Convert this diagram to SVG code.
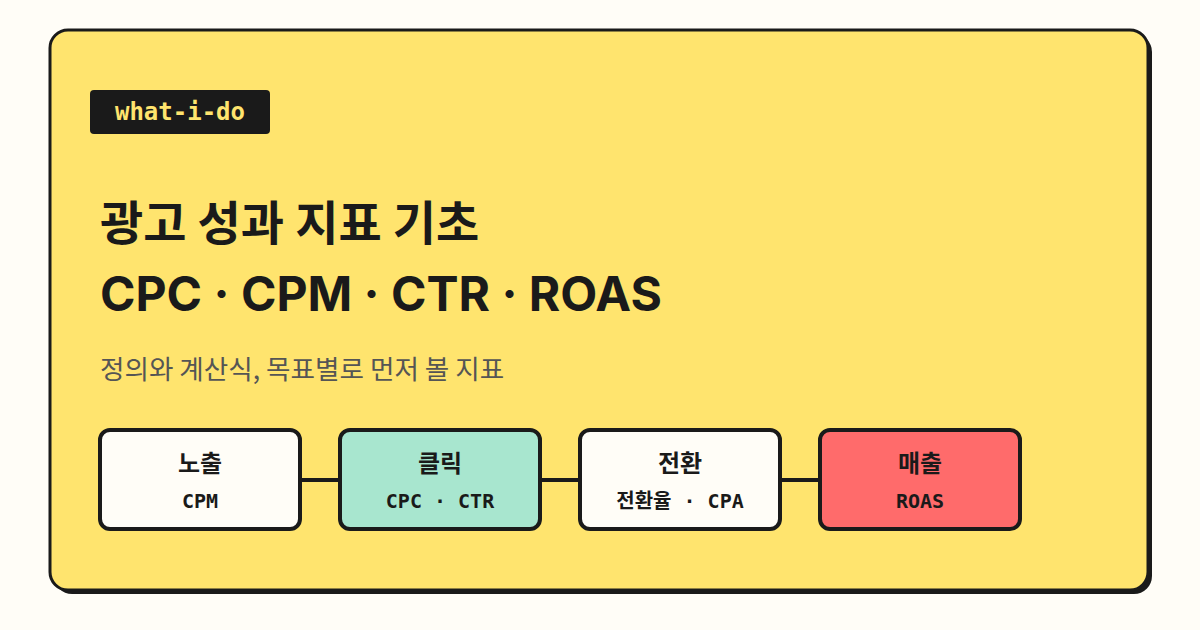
<svg xmlns="http://www.w3.org/2000/svg" width="1200" height="630" viewBox="0 0 1200 630">
<style>
.box{stroke:#1a1a1a;stroke-width:4}
.h{font-family:"Noto Sans CJK KR","Noto Sans",sans-serif;font-weight:700;font-size:24px;fill:#1a1a1a;text-anchor:middle}
.m{font-family:"DejaVu Sans Mono","Noto Sans CJK KR",monospace;font-weight:700;font-size:20px;fill:#1a1a1a;text-anchor:middle}
</style>
<rect width="1200" height="630" fill="#fffdf7"/>
<rect x="54" y="34" width="1098" height="560" rx="18" fill="#1a1a1a"/>
<rect x="50" y="30" width="1098" height="560" rx="18" fill="#ffe46e" stroke="#1a1a1a" stroke-width="3"/>
<g id="tag"><rect x="90" y="90" width="180" height="44" rx="4" fill="#1a1a1a"/>
<text x="180" y="120" font-family="DejaVu Sans Mono,monospace" font-weight="700" font-size="24" fill="#ffe46e" text-anchor="middle">what-i-do</text></g>
<text x="100" y="240" font-family="Inter,'Noto Sans CJK KR',sans-serif" font-weight="700" font-size="47" fill="#1a1a1a">광고 성과 지표 기초</text>
<text x="100" y="311" font-family="Inter,'Noto Sans CJK KR',sans-serif" font-weight="700" font-size="48" fill="#1a1a1a">CPC · CPM · CTR · ROAS</text>
<text x="100" y="379" font-family="'Noto Sans CJK KR',sans-serif" font-size="26.6" fill="#555">정의와 계산식, 목표별로 먼저 볼 지표</text>
<g id="connectors" stroke="#1a1a1a" stroke-width="4">
<line x1="300" y1="480" x2="340" y2="480"/><line x1="540" y1="480" x2="580" y2="480"/><line x1="780" y1="480" x2="820" y2="480"/>
</g>
<g id="n1"><rect class="box" x="100" y="430" width="200" height="99" rx="10" fill="#fffdf7"/><text class="h" x="200" y="472">노출</text><text class="m" x="200" y="508">CPM</text></g>
<g id="n2"><rect class="box" x="340" y="430" width="200" height="99" rx="10" fill="#a8e6cf"/><text class="h" x="440" y="472">클릭</text><text class="m" x="440" y="508">CPC · CTR</text></g>
<g id="n3"><rect class="box" x="580" y="430" width="200" height="99" rx="10" fill="#fffdf7"/><text class="h" x="680" y="472">전환</text><text class="m" x="680" y="508">전환율 · CPA</text></g>
<g id="n4"><rect class="box" x="820" y="430" width="200" height="99" rx="10" fill="#ff6b6b"/><text class="h" x="920" y="472">매출</text><text class="m" x="920" y="508">ROAS</text></g>
</svg>
